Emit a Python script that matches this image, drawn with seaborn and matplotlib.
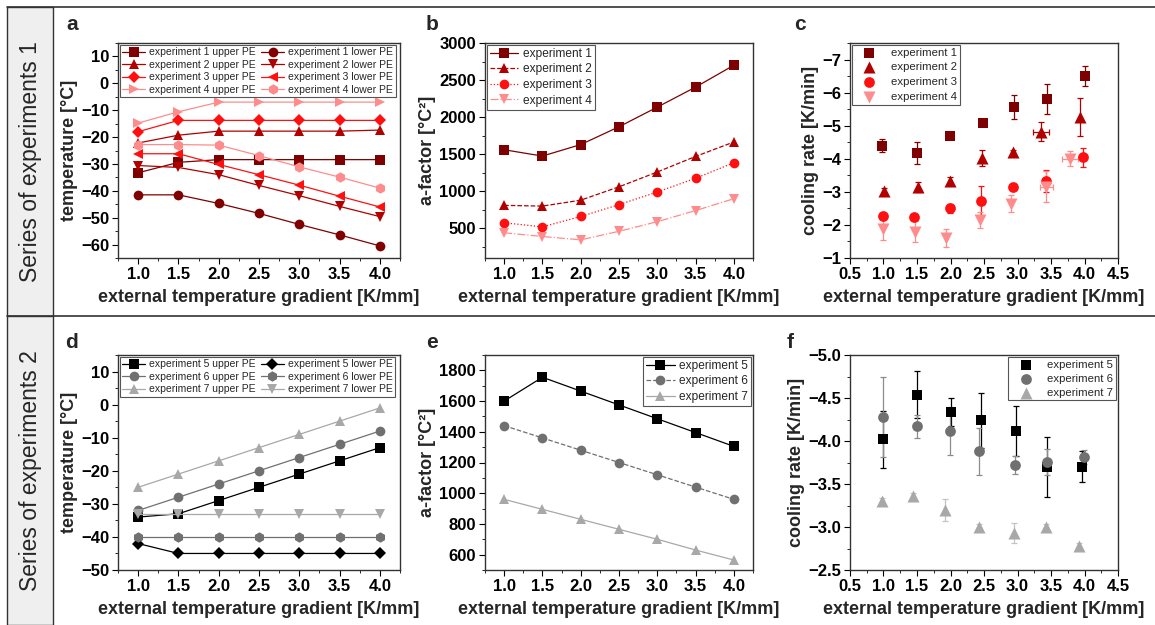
import matplotlib
matplotlib.use("Agg")
import matplotlib.pyplot as plt
from matplotlib.patches import Rectangle
from matplotlib.lines import Line2D
from matplotlib.ticker import MultipleLocator
import seaborn as sns

# ---- data ----
X_GRAD = [1.0, 1.5, 2.0, 2.5, 3.0, 3.5, 4.0]

# panel a: temperatures, series 1
A_EXP1_UPPER = [-33.3, -29.4, -28.4, -28.4, -28.4, -28.4, -28.4]
A_EXP2_UPPER = [-22.2, -19.3, -17.8, -17.8, -17.8, -17.8, -17.4]
A_EXP3_UPPER = [-18.0, -13.8, -13.8, -13.8, -13.8, -13.8, -13.8]
A_EXP4_UPPER = [-14.8, -10.6, -7.0, -7.0, -7.0, -7.0, -7.0]
A_EXP1_LOWER = [-41.5, -41.5, -44.7, -48.4, -52.5, -56.4, -60.5]
A_EXP2_LOWER = [-30.6, -31.3, -34.0, -38.0, -41.8, -45.8, -49.6]
A_EXP3_LOWER = [-26.2, -26.2, -30.2, -34.0, -37.9, -42.0, -46.0]
A_EXP4_LOWER = [-22.8, -22.8, -23.0, -26.9, -31.1, -34.9, -39.0]

# panel b: a-factor, series 1
B_EXP1 = [1560, 1475, 1630, 1870, 2135, 2405, 2700]
B_EXP2 = [810, 800, 880, 1060, 1260, 1470, 1665]
B_EXP3 = [575, 520, 660, 820, 990, 1175, 1385]
B_EXP4 = [440, 390, 345, 460, 590, 740, 900]

# panel c: cooling rate, series 1
C_EXP1_X = [0.98, 1.50, 1.99, 2.48, 2.95, 3.44, 4.00]
C_EXP1_Y = [-4.40, -4.18, -4.68, -5.07, -5.57, -5.81, -6.50]
C_EXP1_ERR = [0.20, 0.34, 0.05, 0.05, 0.36, 0.45, 0.30]
C_EXP2_X = [1.01, 1.52, 1.99, 2.47, 2.93, 3.35, 3.93]
C_EXP2_Y = [-3.02, -3.14, -3.33, -4.02, -4.20, -4.82, -5.27]
C_EXP2_ERR = [0.10, 0.15, 0.12, 0.25, 0.08, 0.29, 0.57]
C_EXP2_XERR = [0, 0, 0, 0, 0, 0.12, 0]
C_EXP3_X = [1.00, 1.45, 1.99, 2.46, 2.94, 3.42, 3.98]
C_EXP3_Y = [-2.27, -2.25, -2.50, -2.72, -3.15, -3.33, -4.04]
C_EXP3_ERR = [0.05, 0.08, 0.13, 0.46, 0.08, 0.33, 0.28]
C_EXP4_X = [0.99, 1.47, 1.93, 2.44, 2.91, 3.43, 3.79]
C_EXP4_Y = [-1.88, -1.80, -1.60, -2.14, -2.64, -3.15, -4.00]
C_EXP4_ERR = [0.35, 0.33, 0.28, 0.24, 0.25, 0.47, 0.22]
C_EXP4_XERR = [0, 0, 0, 0, 0, 0.10, 0.12]

# panel d: temperatures, series 2
D_EXP5_UPPER = [-34, -33, -29, -25, -21, -17, -13]
D_EXP6_UPPER = [-32, -28, -24, -20, -16, -12, -8]
D_EXP7_UPPER = [-25, -21, -17, -13, -9, -5, -1]
D_EXP5_LOWER = [-42, -45, -45, -45, -45, -45, -45]
D_EXP6_LOWER = [-40, -40, -40, -40, -40, -40, -40]
D_EXP7_LOWER = [-33, -33, -33, -33, -33, -33, -33]

# panel e: a-factor, series 2
E_EXP5 = [1600, 1755, 1665, 1575, 1485, 1395, 1305]
E_EXP6 = [1440, 1360, 1280, 1200, 1120, 1040, 960]
E_EXP7 = [960, 895, 830, 765, 700, 630, 565]

# panel f: cooling rate, series 2
F_EXP5_X = [1.00, 1.50, 2.00, 2.46, 2.98, 3.44, 3.96]
F_EXP5_Y = [-4.02, -4.54, -4.34, -4.24, -4.12, -3.70, -3.70]
F_EXP5_ERR = [0.33, 0.27, 0.16, 0.32, 0.29, 0.35, 0.18]
F_EXP6_X = [1.00, 1.50, 1.99, 2.43, 2.97, 3.44, 3.99]
F_EXP6_Y = [-4.28, -4.17, -4.12, -3.88, -3.72, -3.76, -3.81]
F_EXP6_ERR = [0.47, 0.13, 0.28, 0.27, 0.10, 0.15, 0.08]
F_EXP7_X = [0.98, 1.44, 1.92, 2.43, 2.95, 3.43, 3.92]
F_EXP7_Y = [-3.30, -3.36, -3.20, -3.00, -2.93, -3.00, -2.78]
F_EXP7_ERR = [0.04, 0.03, 0.13, 0.03, 0.12, 0.04, 0.03]

# ---- styling ----
RED1, RED2, RED3, RED4 = "#7f0000", "#b00000", "#ff1010", "#ff8c8c"
GR5, GR6, GR7 = "#000000", "#707070", "#a8a8a8"
XLABEL = "external temperature gradient [K/mm]"

sns.set_style("ticks")
plt.rcParams["font.family"] = ["Liberation Sans", "DejaVu Sans"]
plt.rcParams["axes.linewidth"] = 1.0
plt.rcParams["xtick.major.size"] = 4
plt.rcParams["ytick.major.size"] = 4
plt.rcParams["xtick.minor.size"] = 2.5
plt.rcParams["ytick.minor.size"] = 2.5


def style_axes(ax, ylabel, xlim, ylim, xmaj, ymaj):
    ax.set_xlim(*xlim)
    ax.set_ylim(*ylim)
    ax.xaxis.set_major_locator(MultipleLocator(xmaj))
    ax.xaxis.set_minor_locator(MultipleLocator(xmaj / 2))
    ax.yaxis.set_major_locator(MultipleLocator(ymaj))
    ax.yaxis.set_minor_locator(MultipleLocator(ymaj / 2))
    ax.tick_params(which="both", direction="out", top=False, right=False,
                   labelsize=12, colors="black", pad=2.5)
    for lab in ax.get_xticklabels() + ax.get_yticklabels():
        lab.set_fontweight("bold")
    ax.xaxis.set_major_formatter(plt.FormatStrFormatter("%.1f"))
    ax.set_xlabel(XLABEL, fontsize=13, fontweight="bold", labelpad=5)
    ax.set_ylabel(ylabel, fontsize=13, fontweight="bold", labelpad=2)
    for s in ax.spines.values():
        s.set_visible(True)
        s.set_color("#333333")


def lines(ax, series):
    for label, y, color, marker, ms, ls in series:
        sns.lineplot(x=X_GRAD, y=y, ax=ax, color=color, marker=marker,
                     markersize=ms, markeredgewidth=0, linestyle=ls,
                     linewidth=0.9, label=label, legend=False)


def points(ax, series):
    for label, x, y, err, xerr, color, ecolor, marker, size in series:
        ax.errorbar(x, y, yerr=err, xerr=xerr, fmt="none", ecolor=ecolor,
                    elinewidth=0.9, capsize=2.2, capthick=0.9, zorder=2)
        sns.scatterplot(x=x, y=y, ax=ax, color=color, marker=marker, s=size,
                        linewidth=0, label=label, legend=False, zorder=3)


def legend(ax, fs, **kw):
    h, l = ax.get_legend_handles_labels()
    opts = dict(fontsize=fs, frameon=True, fancybox=False, edgecolor="#555555",
                framealpha=1, borderpad=0.25, labelspacing=0.25,
                handletextpad=0.4)
    opts.update(kw)
    leg = ax.legend(h, l, **opts)
    leg.get_frame().set_linewidth(0.8)


fig = plt.figure(figsize=(11.55, 6.25), dpi=100)
W, H = 1155.0, 625.0


def axes_at(x0, x1, y0, y1):
    return fig.add_axes([x0 / W, 1 - y1 / H, (x1 - x0) / W, (y1 - y0) / H])


ax_a = axes_at(118, 400, 43, 258)
ax_b = axes_at(485, 753, 43, 258)
ax_c = axes_at(850, 1118, 43, 258)
ax_d = axes_at(118, 400, 355, 570)
ax_e = axes_at(485, 753, 355, 570)
ax_f = axes_at(850, 1118, 355, 570)

# a
lines(ax_a, [
    ("experiment 1 upper PE", A_EXP1_UPPER, RED1, "s", 6.5, "-"),
    ("experiment 2 upper PE", A_EXP2_UPPER, RED2, "^", 7.5, "-"),
    ("experiment 3 upper PE", A_EXP3_UPPER, RED3, "D", 6, "-"),
    ("experiment 4 upper PE", A_EXP4_UPPER, RED4, ">", 7.5, "-"),
    ("experiment 1 lower PE", A_EXP1_LOWER, RED1, "o", 7, "-"),
    ("experiment 2 lower PE", A_EXP2_LOWER, RED2, "v", 7.5, "-"),
    ("experiment 3 lower PE", A_EXP3_LOWER, RED3, "<", 7.5, "-"),
    ("experiment 4 lower PE", A_EXP4_LOWER, RED4, "h", 7.5, "-"),
])
style_axes(ax_a, "temperature [°C]", (0.75, 4.25), (-65, 15), 0.5, 10)
legend(ax_a, 7.5, ncol=2, loc="upper left", borderaxespad=0.15,
       columnspacing=0.5, handlelength=2.2, labelspacing=0.24)

# b
lines(ax_b, [
    ("experiment 1", B_EXP1, RED1, "s", 6.5, "-"),
    ("experiment 2", B_EXP2, RED2, "^", 7.5, "--"),
    ("experiment 3", B_EXP3, RED3, "o", 7, ":"),
    ("experiment 4", B_EXP4, RED4, "v", 7.5, "-."),
])
style_axes(ax_b, "a-factor [°C²]", (0.75, 4.25), (100, 3000), 0.5, 500)
legend(ax_b, 8.6, loc="upper left", borderaxespad=0.15, handlelength=2.4,
       labelspacing=0.3)

# c
points(ax_c, [
    ("experiment 1", C_EXP1_X, C_EXP1_Y, C_EXP1_ERR, None, RED1, RED1, "s", 52),
    ("experiment 2", C_EXP2_X, C_EXP2_Y, C_EXP2_ERR, C_EXP2_XERR, RED2, RED2, "^", 75),
    ("experiment 3", C_EXP3_X, C_EXP3_Y, C_EXP3_ERR, None, RED3, RED3, "o", 60),
    ("experiment 4", C_EXP4_X, C_EXP4_Y, C_EXP4_ERR, C_EXP4_XERR, RED4, RED4, "v", 75),
])
style_axes(ax_c, "cooling rate [K/min]", (0.5, 4.5), (-1, -7.5), 0.5, 1)
legend(ax_c, 8.2, loc="upper left", borderaxespad=0.15, handlelength=2.6,
       handletextpad=0.6, labelspacing=0.42)

# d
lines(ax_d, [
    ("experiment 5 upper PE", D_EXP5_UPPER, GR5, "s", 6.5, "-"),
    ("experiment 6 upper PE", D_EXP6_UPPER, GR6, "o", 7, "-"),
    ("experiment 7 upper PE", D_EXP7_UPPER, GR7, "^", 7.5, "-"),
    ("experiment 5 lower PE", D_EXP5_LOWER, GR5, "D", 6, "-"),
    ("experiment 6 lower PE", D_EXP6_LOWER, GR6, "h", 7.5, "-"),
    ("experiment 7 lower PE", D_EXP7_LOWER, GR7, "v", 7.5, "-"),
])
style_axes(ax_d, "temperature [°C]", (0.75, 4.25), (-50, 15), 0.5, 10)
legend(ax_d, 7.5, ncol=2, loc="upper left", borderaxespad=0.15,
       columnspacing=0.5, handlelength=2.2, labelspacing=0.24)

# e
lines(ax_e, [
    ("experiment 5", E_EXP5, GR5, "s", 6.5, "-"),
    ("experiment 6", E_EXP6, GR6, "o", 7, "--"),
    ("experiment 7", E_EXP7, GR7, "^", 7.5, "-"),
])
style_axes(ax_e, "a-factor [°C²]", (0.75, 4.25), (500, 1900), 0.5, 200)
legend(ax_e, 8.6, loc="upper right", borderaxespad=0.15, handlelength=2.4,
       labelspacing=0.3)

# f
points(ax_f, [
    ("experiment 5", F_EXP5_X, F_EXP5_Y, F_EXP5_ERR, None, GR5, GR5, "s", 52),
    ("experiment 6", F_EXP6_X, F_EXP6_Y, F_EXP6_ERR, None, GR6, "#8c8c8c", "o", 60),
    ("experiment 7", F_EXP7_X, F_EXP7_Y, F_EXP7_ERR, None, GR7, "#c4c4c4", "^", 75),
])
style_axes(ax_f, "cooling rate [K/min]", (0.5, 4.5), (-2.5, -5.0), 0.5, 0.5)
legend(ax_f, 8.2, loc="upper right", borderaxespad=0.15, handlelength=2.6,
       handletextpad=0.6, labelspacing=0.35)

# panel letters
for txt, x, y in [("a", 72, 25), ("b", 432, 25), ("c", 800, 25),
                  ("d", 72, 343), ("e", 432, 343), ("f", 790, 343)]:
    fig.text(x / W, 1 - y / H, txt, fontsize=15, fontweight="bold",
             ha="center", va="center")

# left row headers and frame lines
for y0, y1, txt in [(7, 316, "Series of experiments 1"),
                    (316, 625, "Series of experiments 2")]:
    fig.patches.append(Rectangle((7 / W, 1 - y1 / H), 46 / W, (y1 - y0) / H,
                                 transform=fig.transFigure, facecolor="#efefef",
                                 edgecolor="#333333", linewidth=1.0, zorder=0))
    fig.text(31 / W, 1 - (y0 + y1) / 2 / H, txt, rotation=90, fontsize=16.5,
             ha="center", va="center")
for y in (7, 316):
    fig.lines.append(Line2D([7 / W, 1], [1 - y / H, 1 - y / H],
                            transform=fig.transFigure, color="#333333",
                            linewidth=1.2))

fig.savefig("out.png", dpi=100)
